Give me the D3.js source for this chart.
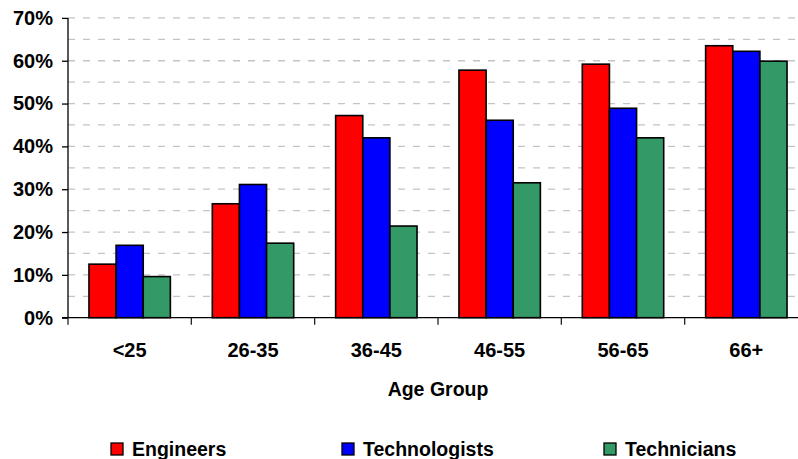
<!DOCTYPE html>
<html>
<head>
<meta charset="utf-8">
<script src="https://cdn.jsdelivr.net/npm/d3@7"></script>
<style>
  html, body { margin: 0; padding: 0; background: #fff; }
  svg { display: block; font-family: "Liberation Sans", Arial, sans-serif; font-weight: bold; }
</style>
</head>
<body>
<svg id="chart" width="798" height="459"></svg>
<script>
// Share of each profession, by age group (percent)
const ageGroups = ["<25", "26-35", "36-45", "46-55", "56-65", "66+"];
const seriesNames = ["Engineers", "Technologists", "Technicians"];
const engineers     = [12.5, 26.6, 47.2, 57.8, 59.2, 63.5];
const technologists = [16.9, 31.1, 42.0, 46.1, 48.9, 62.2];
const technicians   = [9.6, 17.4, 21.4, 31.5, 42.0, 59.9];
const yTicks = [0, 10, 20, 30, 40, 50, 60, 70];
const gridLevels = [5, 10, 15, 20, 25, 30, 35, 40, 45, 50, 55, 60, 65, 70];
const colors = ["#ff0000", "#0000ff", "#339966"];

const seriesValues = [engineers, technologists, technicians];
const rows = ageGroups.map((g, i) => ({
  group: g,
  values: seriesNames.map((s, k) => ({ series: s, value: seriesValues[k][i] }))
}));

const svg = d3.select("#chart");
const plotLeft = 68, plotRight = 808, plotTop = 17.9, plotBottom = 317.7;

const x = d3.scaleBand().domain(ageGroups).range([plotLeft, plotRight])
  .paddingInner(0.34).paddingOuter(0.17);
const xInner = d3.scaleBand().domain(seriesNames).range([0, x.bandwidth()]);
const y = d3.scaleLinear().domain([0, 70]).range([plotBottom, plotTop]);
const color = d3.scaleOrdinal().domain(seriesNames).range(colors);

// dashed horizontal gridlines
svg.append("g").selectAll("line").data(gridLevels).join("line")
  .attr("x1", plotLeft).attr("x2", 798)
  .attr("y1", d => y(d)).attr("y2", d => y(d))
  .attr("stroke", "#c4c4c4").attr("stroke-width", 1.3)
  .attr("stroke-dasharray", "7,8");

// bars
const groups = svg.append("g").selectAll("g").data(rows).join("g")
  .attr("transform", d => `translate(${x(d.group)},0)`);
groups.selectAll("rect").data(d => d.values).join("rect")
  .attr("x", d => xInner(d.series))
  .attr("width", xInner.bandwidth())
  .attr("y", d => y(d.value))
  .attr("height", d => y(0) - y(d.value))
  .attr("fill", d => color(d.series))
  .attr("stroke", "#000").attr("stroke-width", 1.6);

// y axis
const yAxis = svg.append("g").attr("transform", `translate(${plotLeft},0)`)
  .call(d3.axisLeft(y).tickValues(yTicks).tickFormat(d => d + "%").tickSize(6).tickPadding(9));
yAxis.select(".domain").attr("stroke", "#000").attr("stroke-width", 1.3)
  .attr("d", `M0,${plotTop}V${plotBottom}`);
yAxis.selectAll(".tick line").attr("stroke", "#000").attr("stroke-width", 1.3);
yAxis.selectAll(".tick text")
  .attr("font-size", 20).attr("font-weight", "bold").attr("fill", "#000")
  .attr("font-family", "Liberation Sans, Arial, sans-serif");

// x axis: baseline with ticks on group boundaries
svg.append("line")
  .attr("x1", plotLeft - 6).attr("x2", 798).attr("y1", plotBottom).attr("y2", plotBottom)
  .attr("stroke", "#000").attr("stroke-width", 1.3);
const boundaries = ageGroups.map(g => x(g) - x.step() * x.paddingOuter());
svg.append("g").selectAll("line").data(boundaries).join("line")
  .attr("x1", d => d).attr("x2", d => d)
  .attr("y1", plotBottom).attr("y2", plotBottom + 7)
  .attr("stroke", "#222").attr("stroke-width", 1.3);

// category labels
svg.append("g").selectAll("text").data(ageGroups).join("text")
  .attr("x", d => x(d) + x.bandwidth() / 2)
  .attr("y", 357)
  .attr("text-anchor", "middle")
  .attr("font-size", 20)
  .text(d => d);

// axis title
svg.append("text")
  .attr("x", (plotLeft + plotRight) / 2).attr("y", 396)
  .attr("text-anchor", "middle").attr("font-size", 19.5)
  .text("Age Group");

// legend
const legendX = [111, 342, 604];
const legend = svg.append("g").selectAll("g").data(seriesNames).join("g")
  .attr("transform", (d, i) => `translate(${legendX[i]},443)`);
legend.append("rect")
  .attr("width", 12).attr("height", 12)
  .attr("fill", d => color(d)).attr("stroke", "#000").attr("stroke-width", 1.3);
legend.append("text")
  .attr("x", 21).attr("y", 13)
  .attr("font-size", 19.5)
  .text(d => d);
</script>
</body>
</html>
